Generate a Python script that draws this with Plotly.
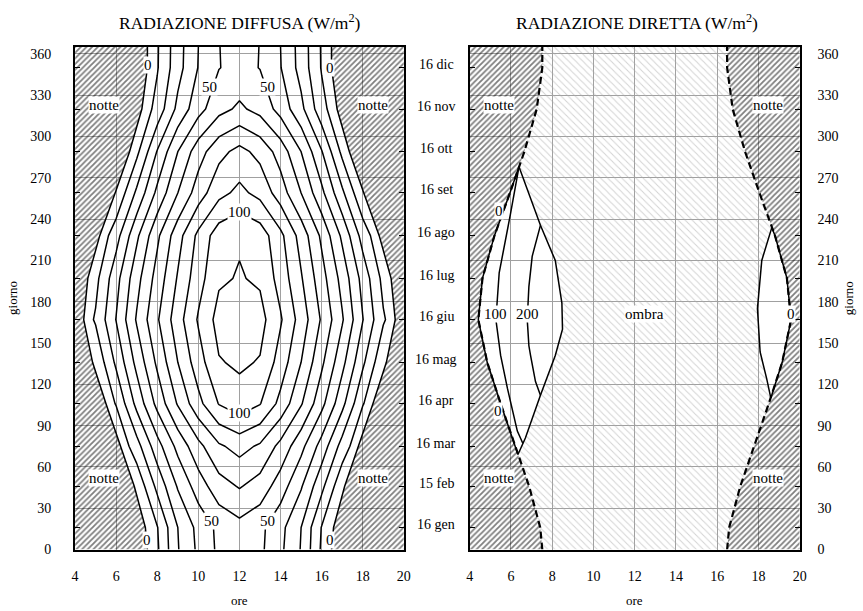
import plotly.graph_objects as go

# ---------------- data ----------------
hours = list(range(4, 21))
grid_days = [0, 16, 46, 75, 106, 136, 167, 197, 228, 259, 289, 320, 350, 365]
# diffuse radiation (W/m2) at each grid day (rows) and hour 4..20 (columns)
diffuse = [
    [0, 0, 0, 0, 8.5, 29.4, 42, 52.1, 56, 52.1, 42, 29.4, 8.5, 0, 0, 0, 0],
    [0, 0, 0, 0, 9.5, 30, 43, 52.5, 56.8, 52.5, 43, 30, 9.5, 0, 0, 0, 0],
    [0, 0, 0, 2, 22.7, 41, 55, 66, 70.8, 66, 55, 41, 22.7, 2, 0, 0, 0],
    [0, 0, 0, 16, 36, 53, 67, 78.5, 83.5, 78.5, 67, 53, 36, 16, 0, 0, 0],
    [0, 0, 10.6, 33, 53, 71, 87, 100.5, 105.9, 100.5, 87, 71, 53, 33, 10.6, 0, 0],
    [0, 1.7, 22, 43, 62, 80, 95.6, 109.3, 111.6, 109.3, 95.6, 80, 62, 43, 22, 1.7, 0],
    [0, 11.2, 30.4, 51.1, 68.8, 85.8, 101.1, 113.6, 116, 113.6, 101.1, 85.8, 68.8, 51.1, 30.4, 11.2, 0],
    [0, 7, 26.5, 46.5, 64, 81, 96, 108.5, 110.7, 108.5, 96, 81, 64, 46.5, 26.5, 7, 0],
    [0, 0, 16, 38, 58, 76, 92.5, 105.5, 109, 105.5, 92.5, 76, 58, 38, 16, 0, 0],
    [0, 0, 1, 22, 42.5, 60, 75, 87, 92.5, 87, 75, 60, 42.5, 22, 1, 0, 0],
    [0, 0, 0, 7.5, 30.7, 50, 65.6, 77, 83, 77, 65.6, 50, 30.7, 7.5, 0, 0, 0],
    [0, 0, 0, 0, 13.6, 32.7, 46.3, 56.8, 61.75, 56.8, 46.3, 32.7, 13.6, 0, 0, 0, 0],
    [0, 0, 0, 0, 9.2, 26.3, 40.4, 49.7, 53, 49.7, 40.4, 26.3, 9.2, 0, 0, 0, 0],
    [0, 0, 0, 0, 9, 26, 40, 49.8, 53.5, 49.8, 40, 26, 9, 0, 0, 0, 0],
]

sun_days = [0, 16, 46, 75, 106, 136, 167, 197, 228, 259, 289, 320, 350, 365]
sunrise = [7.52, 7.42, 6.88, 6.2, 5.5, 4.85, 4.42, 4.62, 5.2, 5.95, 6.65, 7.25, 7.52, 7.52]
sunset = [16.48, 16.58, 17.12, 17.8, 18.5, 19.15, 19.58, 19.38, 18.8, 18.05, 17.35, 16.75, 16.48, 16.48]

# direct radiation: morning sunlit lens
am_shade_days = [69, 81, 112, 141, 160, 179, 210, 235.5, 278]
am_shade_hours = [6.34, 6.7, 7.43, 8.15, 8.5, 8.47, 8.15, 7.43, 6.39]
am_100_days = [77, 86, 117, 141, 167, 201, 244, 278]
am_100_hours = [6.58, 6.31, 5.83, 5.5, 5.27, 5.43, 5.98, 6.39]
am_200_days = [112, 122, 141, 148, 167, 191, 213, 235.5]
am_200_hours = [7.43, 7.19, 6.95, 6.87, 6.79, 6.87, 7.03, 7.43]
# evening sunlit lens
pm_shade_days = [110, 124, 143.5, 175, 210, 234]
pm_shade_hours = [18.6, 18.4, 18.08, 17.95, 18.16, 18.65]

month_days = [16, 46, 75, 106, 136, 167, 197, 228, 259, 289, 320, 350]
month_labels = ["16 gen", "15 feb", "16 mar", "16 apr", "16 mag", "16 giu",
                "16 lug", "16 ago", "16 set", "16 ott", "16 nov", "16 dic"]
x_ticks = [4, 6, 8, 10, 12, 14, 16, 18, 20]
y_ticks = list(range(0, 361, 30))

FONT = "Liberation Serif"
W, H = 863, 611

fig = go.Figure()

hatch = dict(shape="/", fgcolor="black", bgcolor="rgba(0,0,0,0)", size=4, solidity=0.45)
shade = dict(shape="\\", fgcolor="#a8a8a8", bgcolor="rgba(0,0,0,0)", size=5, solidity=0.2)


def night_polys(xa, ya):
    fig.add_trace(go.Scatter(x=sunrise + [4, 4], y=sun_days + [365, 0], fill="toself",
                             fillcolor="rgba(0,0,0,0)", fillpattern=hatch, mode="none",
                             xaxis=xa, yaxis=ya, showlegend=False, hoverinfo="skip"))
    fig.add_trace(go.Scatter(x=sunset + [20, 20], y=sun_days + [365, 0], fill="toself",
                             fillcolor="rgba(0,0,0,0)", fillpattern=hatch, mode="none",
                             xaxis=xa, yaxis=ya, showlegend=False, hoverinfo="skip"))


# ---------------- left panel ----------------
night_polys("x", "y")
fig.add_trace(go.Contour(x=hours, y=grid_days, z=diffuse, xaxis="x", yaxis="y",
                         contours=dict(start=10, end=110, size=10, coloring="lines"),
                         colorscale=[[0, "black"], [1, "black"]], showscale=False,
                         line=dict(width=1.5, smoothing=0), hoverinfo="skip"))
for xs in (sunrise, sunset):
    fig.add_trace(go.Scatter(x=xs, y=sun_days, mode="lines", line=dict(color="black", width=1.5),
                             xaxis="x", yaxis="y", showlegend=False, hoverinfo="skip"))

# ---------------- right panel ----------------
night_polys("x2", "y2")
sx, sy = [], []
for d, h in zip(sun_days, sunrise):
    if d < am_shade_days[0]:
        sx.append(h); sy.append(d)
sx += am_shade_hours; sy += am_shade_days
for d, h in zip(sun_days, sunrise):
    if d > am_shade_days[-1]:
        sx.append(h); sy.append(d)
for d, h in reversed(list(zip(sun_days, sunset))):
    if d > pm_shade_days[-1]:
        sx.append(h); sy.append(d)
sx += pm_shade_hours[::-1]; sy += pm_shade_days[::-1]
for d, h in reversed(list(zip(sun_days, sunset))):
    if d < pm_shade_days[0]:
        sx.append(h); sy.append(d)
fig.add_trace(go.Scatter(x=sx, y=sy, fill="toself", fillcolor="rgba(0,0,0,0)", fillpattern=shade,
                         mode="none", xaxis="x2", yaxis="y2", showlegend=False, hoverinfo="skip"))

for xs in (sunrise, sunset):
    fig.add_trace(go.Scatter(x=xs, y=sun_days, mode="lines",
                             line=dict(color="black", width=2.2, dash="7px,4px"),
                             xaxis="x2", yaxis="y2", showlegend=False, hoverinfo="skip"))

ax = [am_shade_hours[0]] + [h for d, h in zip(sun_days, sunrise) if am_shade_days[0] < d < am_shade_days[-1]] + [am_shade_hours[-1]]
ay = [am_shade_days[0]] + [d for d in sun_days if am_shade_days[0] < d < am_shade_days[-1]] + [am_shade_days[-1]]
px_ = [pm_shade_hours[0]] + [h for d, h in zip(sun_days, sunset) if pm_shade_days[0] < d < pm_shade_days[-1]] + [pm_shade_hours[-1]]
py_ = [pm_shade_days[0]] + [d for d in sun_days if pm_shade_days[0] < d < pm_shade_days[-1]] + [pm_shade_days[-1]]
for xs, ys in ((ax, ay), (px_, py_), (am_shade_hours, am_shade_days), (pm_shade_hours, pm_shade_days),
               (am_100_hours, am_100_days), (am_200_hours, am_200_days)):
    fig.add_trace(go.Scatter(x=xs, y=ys, mode="lines", line=dict(color="black", width=1.5),
                             xaxis="x2", yaxis="y2", showlegend=False, hoverinfo="skip"))

# ---------------- axes ----------------
xd1 = [72 / W, 405 / W]
xd2 = [471.7 / W, 806 / W]
yd = [(H - 556.8) / H, (H - 47.7) / H]

common_x = dict(range=[4, 20], tickvals=x_ticks, showgrid=True, gridcolor="#a0a0a0", gridwidth=1,
                showline=True, linecolor="black", linewidth=2, mirror=True, ticks="",
                zeroline=False, tickfont=dict(size=14, family=FONT, color="black"),
                ticklabelstandoff=13)
common_y = dict(range=[0, 365], tickvals=y_ticks, showgrid=True, gridcolor="#a0a0a0", gridwidth=1,
                showline=True, linecolor="black", linewidth=2, mirror="ticks", ticks="",
                zeroline=False, tickfont=dict(size=14, family=FONT, color="black"),
                minor=dict(tickmode="array", tickvals=month_days, ticks="inside", ticklen=5,
                           tickcolor="black", showgrid=False))

fig.update_layout(
    width=W, height=H, margin=dict(l=0, r=0, t=0, b=0),
    paper_bgcolor="white", plot_bgcolor="white",
    font=dict(family=FONT, color="black", size=14),
    xaxis=dict(domain=xd1, anchor="y", **common_x),
    yaxis=dict(domain=yd, anchor="x", side="left", ticklabelstandoff=19, **common_y),
    xaxis2=dict(domain=xd2, anchor="y2", **common_x),
    yaxis2=dict(domain=yd, anchor="x2", side="right", ticklabelstandoff=13, **common_y),
)

ann = []


def lab(text, x, y, xr, yr, size=14, bg="white", angle=0, ys=0):
    d = dict(text=text, x=x, y=y, xref=xr, yref=yr, showarrow=False,
             xanchor="center", yanchor="middle", textangle=angle, yshift=ys,
             font=dict(size=size, family=FONT, color="black"), borderpad=0)
    if bg:
        d["bgcolor"] = bg
    ann.append(d)


lab("RADIAZIONE DIFFUSA (W/m<sup>2</sup>)", 239 / W, (H - 22.7) / H, "paper", "paper", 17.5, None)
lab("RADIAZIONE DIRETTA (W/m<sup>2</sup>)", 641 / W, (H - 22.7) / H, "paper", "paper", 17.5, None)
lab("ore", 238.5 / W, (H - 602.7) / H, "paper", "paper", 13, None, 0, -6)
lab("ore", 639 / W, (H - 602.7) / H, "paper", "paper", 13, None, 0, -6)
for gx in (8 / W, 855 / W):
    lab("giorno", gx, (H - 302) / H, "paper", "paper", 13, None, -90)

for d, t in zip(month_days, month_labels):
    ann.append(dict(text=t, x=438 / W, y=d, xref="paper", yref="y", showarrow=False, yshift=3,
                    xanchor="center", yanchor="middle",
                    font=dict(size=14, family=FONT, color="black")))

for xr, yr in (("x", "y"), ("x2", "y2")):
    for d in (322.7, 52):
        lab("notte", 5.43, d, xr, yr, 15)
        lab("notte", 18.48, d, xr, yr, 15)

for t, x, y in (("0", 7.56, 352), ("0", 16.4, 350), ("50", 10.55, 336), ("50", 13.36, 336),
                ("100", 12, 245), ("100", 12, 99.5), ("50", 10.63, 20.4), ("50", 13.36, 20.4),
                ("0", 7.51, 7.2), ("0", 16.4, 7.2)):
    lab(t, x, y, "x", "y", 15)
for t, x, y in (("0", 5.43, 246), ("100", 5.26, 171), ("200", 6.79, 171), ("0", 5.35, 100.4),
                ("ombra", 12.47, 171), ("0", 19.57, 171)):
    lab(t, x, y, "x2", "y2", 15)

fig.update_layout(annotations=ann)
fig.write_html("out.html")
